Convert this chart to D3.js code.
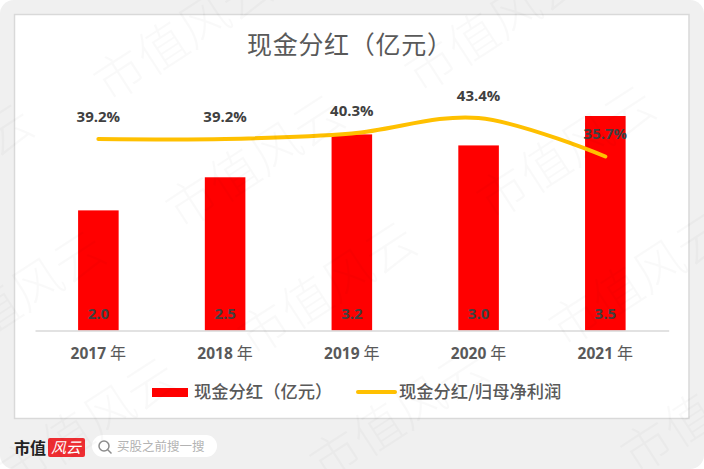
<!DOCTYPE html>
<html>
<head>
<meta charset="utf-8">
<script src="https://d3js.org/d3.v7.min.js"></script>
<style>
    html, body { margin: 0; background: #fff; }
    svg { display: block; }
    .cjk { font-family: "Noto Sans CJK SC", sans-serif; }
    .num { font-family: "Open Sans", sans-serif; font-weight: 700; }
</style>
</head>
<body>
<svg id="chart" width="704" height="469"></svg>
<script>
// values
const years = ['2017', '2018', '2019', '2020', '2021'];
const dividends = [1.96, 2.5, 3.2, 3.02, 3.5];
const dividendLabels = ['2.0', '2.5', '3.2', '3.0', '3.5'];
const payoutRatios = [39.2, 39.2, 40.3, 43.4, 35.7];

const title = '现金分红（亿元）';
const barLegend = '现金分红（亿元）';
const lineLegend = '现金分红/归母净利润';
const watermark = '市值风云';

const svg = d3.select('#chart');

// page background and chart frame
svg.append('rect').attr('width', 704).attr('height', 469).attr('rx', 14).attr('fill', '#f0f0f0');
svg.append('rect').attr('x', 14.5).attr('y', 14.5).attr('width', 674.5).attr('height', 404)
    .attr('fill', '#fff').attr('stroke', '#d9d9d9').attr('stroke-width', 1.5);

const x = d3.scaleBand().domain(years).range([35, 668.7]).paddingInner(0.68).paddingOuter(0.34);
const yBar = d3.scaleLinear().domain([0, 3.5]).range([330.5, 116]);
const yLine = d3.scaleLinear().domain([35.7, 43.4]).range([156.5, 118]);

svg.append('text').attr('class', 'cjk').attr('x', 247).attr('y', 54)
    .attr('font-size', 25).attr('letter-spacing', 0.7).attr('fill', '#595959').text(title);

// bars
svg.append('g').selectAll('rect').data(dividends).enter().append('rect')
    .attr('x', (d, i) => x(years[i]))
    .attr('y', d => yBar(d))
    .attr('width', x.bandwidth())
    .attr('height', d => yBar(0) - yBar(d))
    .attr('fill', '#ff0000');

// category axis
const axis = svg.append('g').attr('transform', 'translate(0,330.5)')
    .call(d3.axisBottom(x).tickSize(0).tickPadding(0));
axis.select('.domain').attr('stroke', '#d9d9d9').attr('stroke-width', 1.5);
axis.selectAll('.tick text').remove();
axis.selectAll('.tick').append('text')
    .attr('y', 28).attr('text-anchor', 'middle').attr('fill', '#595959')
    .each(function (d) {
        const t = d3.select(this);
        t.append('tspan').attr('class', 'num').attr('font-size', 15.5).text(d + ' ');
        t.append('tspan').attr('class', 'cjk').attr('font-size', 16).text('年');
    });

// smoothed line, tension 0 is what the spreadsheet smoothing looks like
const line = d3.line()
    .x((d, i) => x(years[i]) + x.bandwidth() / 2)
    .y(d => yLine(d))
    .curve(d3.curveCardinal.tension(0));
svg.append('path').datum(payoutRatios).attr('d', line)
    .attr('fill', 'none').attr('stroke', '#ffc000').attr('stroke-width', 4).attr('stroke-linecap', 'round');

// data labels
svg.append('g').selectAll('text').data(dividendLabels).enter().append('text')
    .attr('class', 'num').attr('font-size', 15).attr('fill', '#404040').attr('text-anchor', 'middle')
    .attr('x', (d, i) => x(years[i]) + x.bandwidth() / 2)
    .attr('y', 318.5)
    .text(d => d);
svg.append('g').selectAll('text').data(payoutRatios).enter().append('text')
    .attr('class', 'num').attr('font-size', 15).attr('fill', '#404040').attr('text-anchor', 'middle')
    .attr('x', (d, i) => x(years[i]) + x.bandwidth() / 2)
    .attr('y', d => yLine(d) - 17.5)
    .text(d => d.toFixed(1) + '%');

// legend
svg.append('rect').attr('x', 152).attr('y', 388).attr('width', 36).attr('height', 9).attr('fill', '#ff0000');
svg.append('text').attr('class', 'cjk').attr('x', 194).attr('y', 398).attr('font-size', 17.3)
    .attr('font-weight', 500).attr('fill', '#595959').text(barLegend);
svg.append('line').attr('x1', 358).attr('x2', 395).attr('y1', 392).attr('y2', 392)
    .attr('stroke', '#ffc000').attr('stroke-width', 4).attr('stroke-linecap', 'round');
svg.append('text').attr('class', 'cjk').attr('x', 399).attr('y', 398).attr('font-size', 17.3)
    .attr('font-weight', 500).attr('fill', '#595959').text(lineLegend);

// footer brand and search pill
svg.append('text').attr('class', 'cjk').attr('x', 14).attr('y', 454).attr('font-size', 16)
    .attr('font-weight', 700).attr('fill', '#222').text('市值');
svg.append('rect').attr('x', 48).attr('y', 438).attr('width', 37).attr('height', 19).attr('rx', 2).attr('fill', '#ee2d32');
svg.append('text').attr('class', 'cjk').attr('x', 51).attr('y', 453).attr('font-size', 15)
    .attr('font-style', 'italic').attr('fill', '#fff').text('风云');
svg.append('rect').attr('x', 92).attr('y', 435).attr('width', 125).attr('height', 22).attr('rx', 11).attr('fill', '#fff');
svg.append('circle').attr('cx', 104).attr('cy', 446).attr('r', 5)
    .attr('fill', 'none').attr('stroke', '#8c8c8c').attr('stroke-width', 1.5);
svg.append('line').attr('x1', 107.5).attr('y1', 449.5).attr('x2', 111.5).attr('y2', 453.5)
    .attr('stroke', '#8c8c8c').attr('stroke-width', 1.5);
svg.append('text').attr('class', 'cjk').attr('x', 117).attr('y', 451).attr('font-size', 12.5)
    .attr('fill', '#b3b3b3').text('买股之前搜一搜');

// watermark lattice over everything, only the ones that reach the canvas
const marks = svg.append('g').attr('pointer-events', 'none');
for (let a = -2; a <= 4; a++) {
    for (let b = -2; b <= 2; b++) {
        const wx = 120 + a * 72 + b * 311;
        const wy = 75 + a * 127 - b * 9;
        if (wx + 170 < 0 || wx - 30 > 704 || wy - 110 > 469 || wy + 30 < 0) continue;
        marks.append('text').attr('class', 'cjk')
            .attr('transform', `translate(${wx - 11},${wy + 29}) rotate(-33)`)
            .attr('font-size', 50).attr('font-weight', 300)
            .attr('fill', '#000').attr('fill-opacity', 0.025)
            .text(watermark);
    }
}
</script>
</body>
</html>
